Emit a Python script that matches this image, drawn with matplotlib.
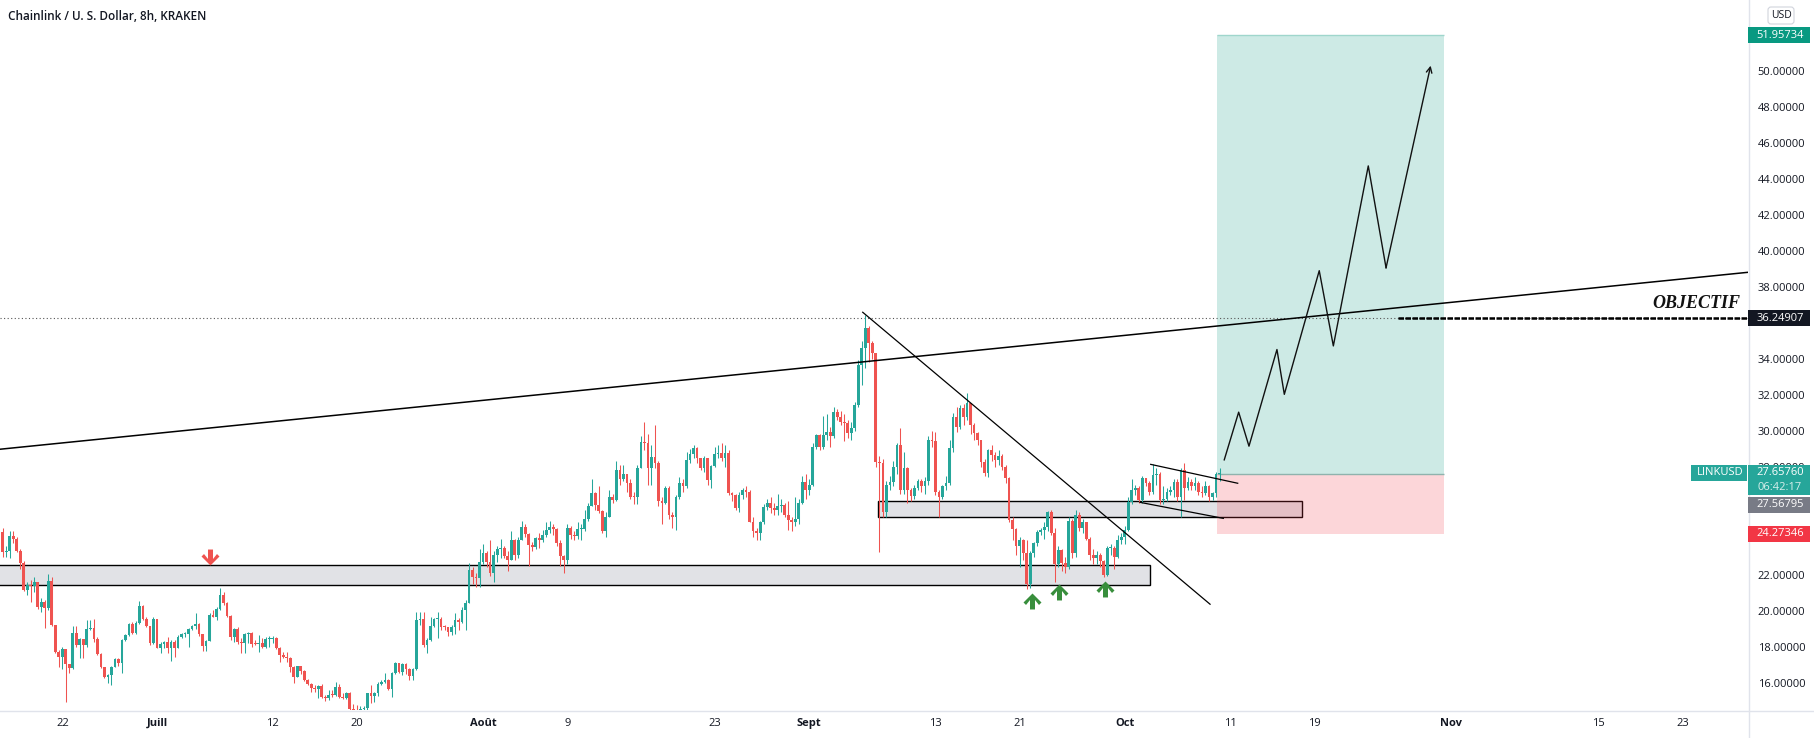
import numpy as np
import pandas as pd
import matplotlib
matplotlib.use("Agg")
import matplotlib.pyplot as plt
from matplotlib.patches import Rectangle, FancyBboxPatch
from matplotlib.path import Path
from matplotlib.lines import Line2D
from matplotlib.transforms import IdentityTransform

plt.rcParams['font.family'] = ['Open Sans', 'DejaVu Sans']

# ---------------- data ----------------
title = "Chainlink / U. S. Dollar, 8h, KRAKEN"
symbol = "LINKUSD"
countdown = "06:42:17"
first_candle = "2021-06-16 08:00"
first_open = 24.39

closes = [
    23.28, 23.30, 24.15, 24.00, 23.33, 22.67, 21.15, 21.40, 21.37, 21.61,
    20.22, 20.50, 20.13, 21.65, 19.20, 17.72, 17.40, 17.85, 17.02, 16.80,
    18.78, 18.10, 18.41, 18.09, 18.96, 19.02, 18.41, 17.57, 16.85, 16.30,
    16.40, 16.89, 17.30, 17.11, 18.37, 18.65, 19.26, 18.78, 19.30, 20.26,
    19.52, 19.15, 18.19, 19.52, 17.91, 18.15, 18.28, 17.91, 18.28, 17.94,
    18.56, 18.69, 18.70, 18.98, 19.15, 19.24, 18.69, 18.06, 18.32, 19.76,
    19.67, 20.07, 20.87, 20.41, 19.70, 18.56, 18.96, 18.28, 18.19, 18.70,
    18.76, 18.15, 18.13, 18.22, 18.00, 18.41, 18.45, 18.46, 17.94, 17.54,
    17.45, 17.39, 16.89, 16.33, 16.90, 16.63, 16.15, 15.93, 15.69, 15.67,
    15.83, 15.19, 15.15, 15.33, 15.30, 15.74, 15.19, 15.13, 15.41, 14.52,
    14.50, 14.45, 14.55, 14.61, 15.41, 15.26, 15.41, 15.93, 16.06, 16.15,
    15.63, 16.56, 17.07, 16.61, 17.02, 16.74, 16.37, 16.74, 19.50, 19.55,
    18.10, 18.37, 19.15, 19.52, 19.55, 19.11, 19.08, 18.83, 19.07, 19.48,
    19.39, 20.04, 20.45, 22.26, 21.89, 21.80, 22.72, 23.19, 22.72, 22.07,
    23.10, 23.40, 23.50, 23.05, 22.82, 23.93, 23.10, 23.90, 24.67, 24.26,
    23.65, 23.56, 24.02, 23.93, 24.20, 24.48, 24.67, 24.52, 23.74, 23.04,
    22.82, 24.60, 24.20, 24.15, 24.52, 24.55, 25.10, 25.82, 26.52, 25.87,
    25.56, 24.45, 25.20, 26.34, 26.15, 27.82, 27.32, 27.60, 27.10, 26.34,
    26.30, 27.90, 29.39, 29.30, 27.90, 28.56, 28.20, 26.10, 25.96, 26.84,
    25.32, 25.20, 26.30, 27.08, 26.90, 28.37, 28.70, 29.02, 28.47, 27.90,
    28.47, 27.26, 28.04, 28.70, 28.78, 28.50, 28.78, 26.52, 26.43, 25.72,
    26.43, 26.70, 26.60, 24.95, 24.43, 24.33, 24.90, 25.78, 26.00, 25.70,
    25.60, 25.80, 25.85, 25.32, 25.04, 24.95, 25.10, 26.00, 27.17, 26.70,
    27.00, 29.11, 29.76, 29.10, 29.76, 29.95, 29.70, 31.06, 30.78, 30.50,
    30.45, 29.85, 30.13, 31.43,
    33.65, 34.58, 35.69, 34.85, 34.30, 28.28, 28.19, 25.50, 26.98, 27.17,
    28.00, 29.20, 26.70, 27.90, 26.70, 26.35, 26.80, 27.20, 26.90, 27.20,
    29.48, 29.45, 26.60, 26.30, 26.93, 27.08, 29.02, 30.78, 30.22, 31.24,
    30.78, 31.52, 30.30, 29.85, 29.48, 28.28, 27.67, 28.93, 28.65, 28.37,
    28.59, 28.00, 27.35, 25.04, 24.55, 23.60, 23.90, 23.20, 21.50, 23.19,
    23.74, 24.39, 24.48, 24.67, 25.50, 24.30, 22.60, 23.37, 22.63, 22.45,
    25.00, 23.20, 25.30, 24.60, 24.90, 24.00, 23.10, 22.90, 23.10, 22.75,
    21.98, 23.46, 23.50, 23.00, 23.93, 24.10, 24.48, 26.06, 26.70, 26.80,
    26.15, 27.35, 27.10, 26.61, 27.54, 27.60, 26.15, 26.20, 26.61, 26.70,
    27.17, 26.30, 27.82, 26.80, 27.17, 26.90, 27.10, 26.61, 26.55, 26.90,
    26.34, 26.52, 27.60, 27.6576,
]

highs = [
    24.57, 23.60, 24.40, 24.40, 24.11, 23.41, 22.76, 21.61, 21.70, 21.89,
    21.61, 20.68, 20.60, 22.02, 21.85, 19.20, 17.83, 18.00, 17.85, 17.02,
    19.17, 19.17, 18.50, 18.41, 19.48, 19.48, 19.52, 18.56, 17.63, 16.85,
    16.50, 16.95, 17.35, 17.35, 18.41, 18.70, 19.30, 19.39, 19.40, 20.56,
    20.32, 19.67, 19.15, 19.63, 19.55, 18.28, 18.30, 18.56, 18.37, 18.37,
    18.65, 18.75, 18.84, 19.02, 19.20, 19.89, 19.30, 18.70, 18.37, 19.85,
    20.04, 20.22, 21.24, 21.06, 20.50, 19.76, 19.02, 19.10, 18.50, 18.74,
    18.84, 18.84, 18.37, 18.65, 18.46, 18.56, 18.60, 18.60, 18.56, 18.00,
    17.70, 17.70, 17.45, 16.93, 16.95, 16.95, 16.70, 16.20, 16.00, 15.87,
    15.87, 15.90, 15.30, 15.59, 15.60, 16.06, 15.90, 15.40, 15.50, 15.50,
    14.80, 14.76, 14.70, 14.70, 15.45, 15.87, 15.50, 16.06, 16.15, 16.56,
    16.20, 16.61, 17.17, 17.07, 17.07, 17.10, 16.80, 16.80, 19.94, 19.90,
    19.94, 18.46, 19.63, 19.57, 19.94, 19.63, 19.20, 19.11, 19.20, 19.85,
    19.60, 20.20, 20.60, 22.67, 22.40, 22.10, 23.40, 23.70, 23.30, 23.90,
    23.30, 23.60, 24.00, 23.60, 23.30, 24.40, 24.00, 24.10, 25.00, 24.80,
    24.30, 23.80, 24.10, 24.30, 24.50, 24.90, 25.00, 24.80, 24.60, 23.90,
    23.10, 24.80, 24.70, 24.40, 24.90, 24.80, 25.60, 26.00, 27.30, 26.60,
    26.90, 25.60, 25.50, 26.70, 26.50, 28.30, 28.10, 28.10, 27.60, 27.30,
    26.60, 28.10, 29.70, 30.50, 29.80, 29.20, 30.30, 28.30, 26.30, 26.90,
    26.90, 25.50, 26.40, 27.40, 27.30, 28.80, 29.00, 29.20, 29.10, 28.50,
    28.60, 28.50, 28.10, 29.10, 29.20, 29.30, 29.20, 28.90, 26.60, 26.50,
    26.60, 26.80, 26.90, 26.70, 25.20, 24.60, 25.00, 25.90, 26.20, 26.30,
    26.00, 26.50, 26.20, 26.00, 26.10, 25.20, 26.30, 26.20, 27.50, 27.60,
    27.30, 29.30, 29.80, 29.80, 30.80, 30.90, 30.20, 31.30, 31.20, 31.10,
    30.90, 30.60, 30.50, 31.60,
    33.90, 35.00, 36.43, 35.80, 35.00, 34.30, 28.60, 28.40, 27.20, 27.50,
    28.30, 29.30, 30.13, 28.80, 28.00, 26.80, 27.00, 27.30, 27.30, 27.40,
    29.70, 30.00, 29.90, 26.70, 27.00, 27.50, 29.50, 31.00, 31.30, 31.40,
    31.50, 32.07, 31.50, 30.40, 29.90, 29.50, 28.40, 29.00, 29.20, 28.80,
    28.90, 28.70, 28.10, 27.40, 25.20, 24.60, 24.10, 24.00, 23.90, 23.30,
    23.80, 24.50, 24.60, 24.90, 25.55, 25.60, 24.60, 23.60, 23.40, 23.00,
    25.20, 25.10, 25.60, 25.50, 25.10, 24.90, 24.10, 23.40, 23.30, 23.20,
    22.80, 23.60, 23.70, 23.60, 24.20, 24.30, 24.70, 26.30, 27.30, 27.00,
    26.90, 27.50, 27.30, 27.20, 28.13, 27.90, 27.70, 26.90, 26.80, 26.90,
    27.30, 27.30, 27.90, 28.19, 27.40, 27.30, 27.40, 27.20, 26.90, 27.20,
    27.00, 26.60, 27.70, 27.95,
]

lows = [
    23.00, 22.98, 22.93, 23.74, 23.28, 22.30, 21.11, 20.87, 20.50, 21.06,
    20.10, 19.95, 19.02, 20.04, 19.15, 17.67, 16.89, 16.74, 14.94, 16.52,
    16.75, 18.00, 17.35, 17.35, 18.00, 18.90, 18.28, 17.54, 16.80, 16.24,
    16.00, 15.87, 16.85, 16.90, 16.52, 18.30, 18.60, 18.70, 18.70, 19.25,
    19.48, 19.10, 18.10, 18.15, 17.90, 17.63, 17.90, 17.63, 17.22, 17.44,
    17.90, 18.50, 18.56, 17.96, 18.90, 19.00, 18.60, 17.78, 17.78, 18.30,
    19.63, 19.48, 20.04, 20.30, 19.67, 18.37, 18.28, 18.15, 17.63, 17.67,
    18.19, 18.00, 18.10, 17.72, 17.91, 17.91, 18.00, 18.19, 17.85, 17.17,
    17.35, 17.17, 16.61, 16.00, 16.30, 16.50, 16.10, 15.87, 15.50, 15.50,
    15.13, 15.13, 15.00, 15.04, 15.19, 15.25, 15.13, 15.09, 15.10, 14.48,
    14.30, 14.20, 14.20, 14.30, 14.50, 14.89, 14.95, 15.26, 15.87, 16.00,
    15.59, 15.22, 16.50, 16.52, 16.43, 16.50, 16.15, 16.15, 16.70, 19.20,
    18.00, 17.63, 18.30, 19.10, 18.46, 18.93, 18.90, 18.60, 18.65, 18.70,
    18.90, 19.30, 18.90, 20.40, 21.50, 21.30, 21.30, 22.60, 22.40, 21.90,
    21.60, 22.70, 22.90, 22.90, 22.20, 22.80, 22.80, 22.95, 23.90, 24.10,
    22.50, 23.30, 23.40, 23.50, 23.80, 24.10, 24.30, 24.20, 23.60, 22.50,
    22.07, 22.60, 24.00, 23.90, 24.00, 23.90, 24.40, 25.00, 25.80, 25.60,
    25.40, 24.30, 24.10, 25.20, 26.00, 26.10, 27.00, 27.20, 26.60, 26.20,
    25.90, 25.90, 27.90, 28.90, 27.00, 27.00, 27.90, 25.80, 24.80, 25.90,
    25.10, 24.60, 24.50, 26.20, 26.60, 26.80, 28.20, 28.50, 28.20, 27.80,
    27.70, 27.00, 26.80, 28.00, 28.50, 28.30, 28.00, 26.40, 26.10, 25.60,
    25.50, 26.20, 26.30, 24.90, 24.10, 23.90, 23.90, 24.80, 25.60, 25.40,
    25.30, 25.30, 25.50, 25.20, 24.50, 24.40, 24.70, 24.80, 25.90, 26.20,
    26.40, 26.90, 29.00, 28.90, 29.00, 29.50, 29.10, 29.60, 30.60, 30.30,
    29.40, 29.60, 29.50, 30.00,
    31.30, 32.54, 33.50, 33.80, 34.00, 28.00, 23.28, 25.20, 25.22, 26.70,
    26.90, 27.60, 26.50, 26.50, 26.00, 26.10, 26.20, 26.70, 26.60, 26.50,
    27.00, 29.10, 26.40, 25.22, 26.20, 26.70, 27.00, 28.80, 29.90, 30.10,
    30.30, 30.60, 29.80, 29.50, 29.20, 28.00, 27.50, 27.40, 28.30, 28.00,
    28.10, 27.80, 27.10, 24.90, 23.90, 23.10, 22.40, 22.80, 21.20, 21.25,
    23.00, 23.60, 24.20, 24.00, 24.40, 24.20, 21.60, 22.40, 22.20, 22.10,
    22.30, 22.90, 23.00, 24.40, 24.30, 23.90, 22.80, 22.60, 22.60, 22.45,
    21.85, 21.90, 23.10, 22.30, 22.90, 23.70, 23.70, 24.40, 25.90, 26.40,
    26.00, 26.00, 26.90, 26.40, 26.50, 27.00, 25.90, 25.90, 26.10, 26.40,
    26.30, 26.10, 25.22, 26.15, 26.70, 26.70, 26.70, 26.40, 26.30, 26.40,
    26.10, 26.15, 26.30, 27.20,
]

xtick_dates = ["2021-06-22", "2021-07-01", "2021-07-12", "2021-07-20", "2021-08-01",
               "2021-08-09", "2021-08-23", "2021-09-01", "2021-09-13", "2021-09-21",
               "2021-10-01", "2021-10-11", "2021-10-19", "2021-11-01", "2021-11-15",
               "2021-11-23"]
xtick_labels = ["22", "Juill", "12", "20", "Août", "9", "23", "Sept", "13", "21",
                "Oct", "11", "19", "Nov", "15", "23"]
month_names = ["Juill", "Août", "Sept", "Oct", "Nov"]
price_ticks = [16, 18, 20, 22, 24, 26, 28, 30, 32, 34, 36, 38, 40, 42, 44, 46, 48, 50]
hidden_ticks = [24, 26, 36]   # covered by price labels on the reference

# drawings: (time, price)
support_zone = ("2021-06-01 00:00", "2021-10-03 09:20", 21.41, 22.54)
retest_zone = ("2021-09-07 12:15", "2021-10-17 20:10", 25.22, 26.10)
rising_line = [("2021-06-16 01:50", 28.97), ("2021-11-29 05:40", 38.80)]
falling_line = [("2021-09-06 02:00", 36.58), ("2021-10-09 02:25", 20.36)]
flag_top = [("2021-10-03 11:00", 28.13), ("2021-10-11 17:30", 27.08)]
flag_bottom = [("2021-10-02 10:30", 26.02), ("2021-10-10 08:40", 25.13)]
path_times = ["2021-10-10 10:48", "2021-10-11 19:41", "2021-10-12 19:12", "2021-10-15 11:02",
              "2021-10-16 03:50", "2021-10-19 11:31", "2021-10-20 19:41", "2021-10-24 03:22",
              "2021-10-25 19:55", "2021-10-30 01:41"]
path_prices = [28.38, 31.03, 29.14, 34.51, 32.02, 38.89, 34.71, 44.71, 39.05, 50.28]
position_start, position_end = "2021-10-09 18:15", "2021-10-31 08:10"
entry_price, target_price, stop_price = 27.56795, 51.95734, 24.27346
objective_price = 36.24907
objective_start = "2021-10-27 00:00"
objective_label = "OBJECTIF"
objective_label_pos = ("2021-11-28 11:30", 37.04)
down_arrow = ("2021-07-06 01:00", 22.54)
up_arrow_times = ["2021-09-22 03:36", "2021-09-24 18:30", "2021-09-29 02:40"]
up_arrow_prices = [20.97, 21.48, 21.65]
view_start, view_end = "2021-06-16 01:50", "2021-11-29 05:40"
view_low, view_high = 14.483, 53.928

# ---------------- helpers ----------------
BASE = pd.Timestamp("2021-07-01")
def days(t):
    return (pd.Timestamp(t) - BASE) / pd.Timedelta(days=1)

UP, DOWN = "#26a69a", "#ef5350"
TXT = "#131722"
W, H = 1814, 738

fig = plt.figure(figsize=(W / 100, H / 100), dpi=100)
fig.patch.set_facecolor("white")
ax = fig.add_axes([0, 28 / H, 1748 / W, 710 / H])
ax.set_facecolor("white")
ax.set_xlim(days(view_start), days(view_end))
ax.set_ylim(view_low, view_high)
for s in ax.spines.values():
    s.set_visible(False)

# candles
c = np.array(closes)
o = np.r_[first_open, c[:-1]]
hi = np.maximum(np.array(highs), np.maximum(o, c))
lo = np.minimum(np.array(lows), np.minimum(o, c))
times = pd.date_range(first_candle, periods=len(c), freq="8h")
x = np.array([(t - BASE) / pd.Timedelta(days=1) for t in times])
col = np.where(c >= o, UP, DOWN)
ax.vlines(x, lo, hi, colors=col, lw=0.75, zorder=3)
ax.bar(x, np.maximum(np.abs(c - o), 0.06), bottom=np.minimum(o, c), width=0.26,
       color=col, lw=0, zorder=4)

# zones
for (t0, t1, p0, p1) in (support_zone, retest_zone):
    ax.add_patch(Rectangle((days(t0), p0), days(t1) - days(t0), p1 - p0,
                           facecolor="#e1e2e6", edgecolor="black", lw=1.0, zorder=1))

ps, pe = days(position_start), days(position_end)
ax.add_patch(Rectangle((ps, entry_price), pe - ps, target_price - entry_price,
                       facecolor=(8 / 255, 153 / 255, 129 / 255, 0.2), lw=0, zorder=2))
ax.add_patch(Rectangle((ps, stop_price), pe - ps, entry_price - stop_price,
                       facecolor=(242 / 255, 54 / 255, 69 / 255, 0.2), lw=0, zorder=2))
ax.hlines(target_price, ps, pe, color="#9fd6cc", lw=1.0, zorder=2)
ax.hlines(entry_price, ps, pe, color="#8fb3ad", lw=1.0, zorder=2)

# lines
ax.axline((days(rising_line[0][0]), rising_line[0][1]),
          (days(rising_line[1][0]), rising_line[1][1]), color="black", lw=1.1, zorder=5)
for seg in (falling_line, flag_top, flag_bottom):
    ax.plot([days(seg[0][0]), days(seg[1][0])], [seg[0][1], seg[1][1]],
            color="black", lw=0.9, zorder=5)

ax.axhline(objective_price, color="#555555", lw=0.8, ls=(0, (1, 2.2)), zorder=2)
ax.hlines(objective_price, days(objective_start), days(view_end), color="black",
          lw=1.8, ls=(0, (2.2, 0.6)), zorder=5)
ax.text(days(objective_label_pos[0]), objective_label_pos[1], objective_label,
        ha="right", va="center", family=["Liberation Serif", "DejaVu Serif"],
        fontweight="bold", fontstyle="italic", fontsize=13, color="#111111", zorder=6)

px = [days(t) for t in path_times]
ax.plot(px[:-1], path_prices[:-1], color="#111111", lw=1.0, zorder=6)
ax.annotate("", xy=(px[-1], path_prices[-1]), xytext=(px[-2], path_prices[-2]),
            arrowprops=dict(arrowstyle="->", color="#111111", lw=1.0,
                            mutation_scale=10, shrinkA=0, shrinkB=0), zorder=6)

# arrow markers
up_verts = [(0, 0), (9, -9), (6.5, -11.5), (2.5, -6.5), (2.5, -16), (-2.5, -16),
            (-2.5, -6.5), (-6.5, -11.5), (-9, -9), (0, 0)]
up_marker = Path(up_verts)
down_marker = Path([(vx, -vy) for vx, vy in up_verts])
ax.plot([days(t) for t in up_arrow_times], up_arrow_prices, ls="", marker=up_marker,
        markersize=23, color="#388e3c", markeredgewidth=0, zorder=7)
ax.plot([days(down_arrow[0])], [down_arrow[1]], ls="", marker=down_marker,
        markersize=23, color="#ef5350", markeredgewidth=0, zorder=7)

# axes ticks
ax.yaxis.tick_right()
ax.set_yticks(price_ticks)
ax.set_yticklabels(["" if v in hidden_ticks else f"{v:.5f}" for v in price_ticks])
ax.tick_params(axis="y", length=0, pad=7, labelsize=8, labelcolor=TXT)
ax.set_xticks([days(d) for d in xtick_dates])
ax.set_xticklabels(xtick_labels)
ax.tick_params(axis="x", length=0, pad=5.5, labelsize=8, labelcolor=TXT)
for lab in ax.get_xticklabels():
    if lab.get_text() in month_names:
        lab.set_fontweight("bold")

ax.text(8 / 1748, 1 - 16.5 / 710, title, transform=ax.transAxes, ha="left",
        va="center", fontsize=8.5, fontweight="semibold", color=TXT, zorder=8)

# separators
fig.add_artist(Line2D([0, 1], [1 - 711 / H] * 2, transform=fig.transFigure,
                      color="#e0e3eb", lw=1))
fig.add_artist(Line2D([1748.5 / W] * 2, [0, 1], transform=fig.transFigure,
                      color="#e0e3eb", lw=1))

# right-side price labels (display pixel coordinates)
def py(p):
    return ax.transData.transform((0, p))[1]

def box(x0, y_center, w, h, face, text_lines, tcolors, z=10):
    fig.add_artist(Rectangle((x0, y_center - h / 2), w, h, transform=IdentityTransform(),
                             facecolor=face, edgecolor="none", zorder=z))
    n = len(text_lines)
    for k, (tx, tc) in enumerate(zip(text_lines, tcolors)):
        yy = y_center + h / 2 - (k + 0.5) * h / n
        fig.text(x0 + w / 2 + 1, yy, tx, transform=IdentityTransform(), ha="center",
                 va="center", fontsize=8, color=tc, zorder=z + 1)

box(1748, py(target_price), 62, 16, "#089981", [f"{target_price:.5f}"], ["white"])
box(1748, py(objective_price), 62, 16, "#131722", [f"{objective_price:.5f}"], ["white"])
last_y = py(c[-1])
box(1748, last_y - 7.3, 62, 29.5, "#26a69a", [f"{c[-1]:.5f}", countdown],
    ["white", "#d8efec"])
box(1691, last_y, 55.5, 16, "#26a69a", [symbol], ["white"])
box(1748, last_y - 31.8, 62, 16, "#787b86", [f"{entry_price:.5f}"], ["white"])
box(1748, py(stop_price), 62, 16, "#f23645", [f"{stop_price:.5f}"], ["white"])

fig.add_artist(FancyBboxPatch((1768, H - 24), 26, 17, transform=IdentityTransform(),
                              boxstyle="round,pad=0,rounding_size=3", facecolor="white",
                              edgecolor="#d1d4dc", lw=0.8, zorder=10))
fig.text(1781, H - 15.5, "USD", transform=IdentityTransform(), ha="center", va="center",
         fontsize=7.5, color=TXT, zorder=11)

fig.savefig("out.png", dpi=100, facecolor="white")
